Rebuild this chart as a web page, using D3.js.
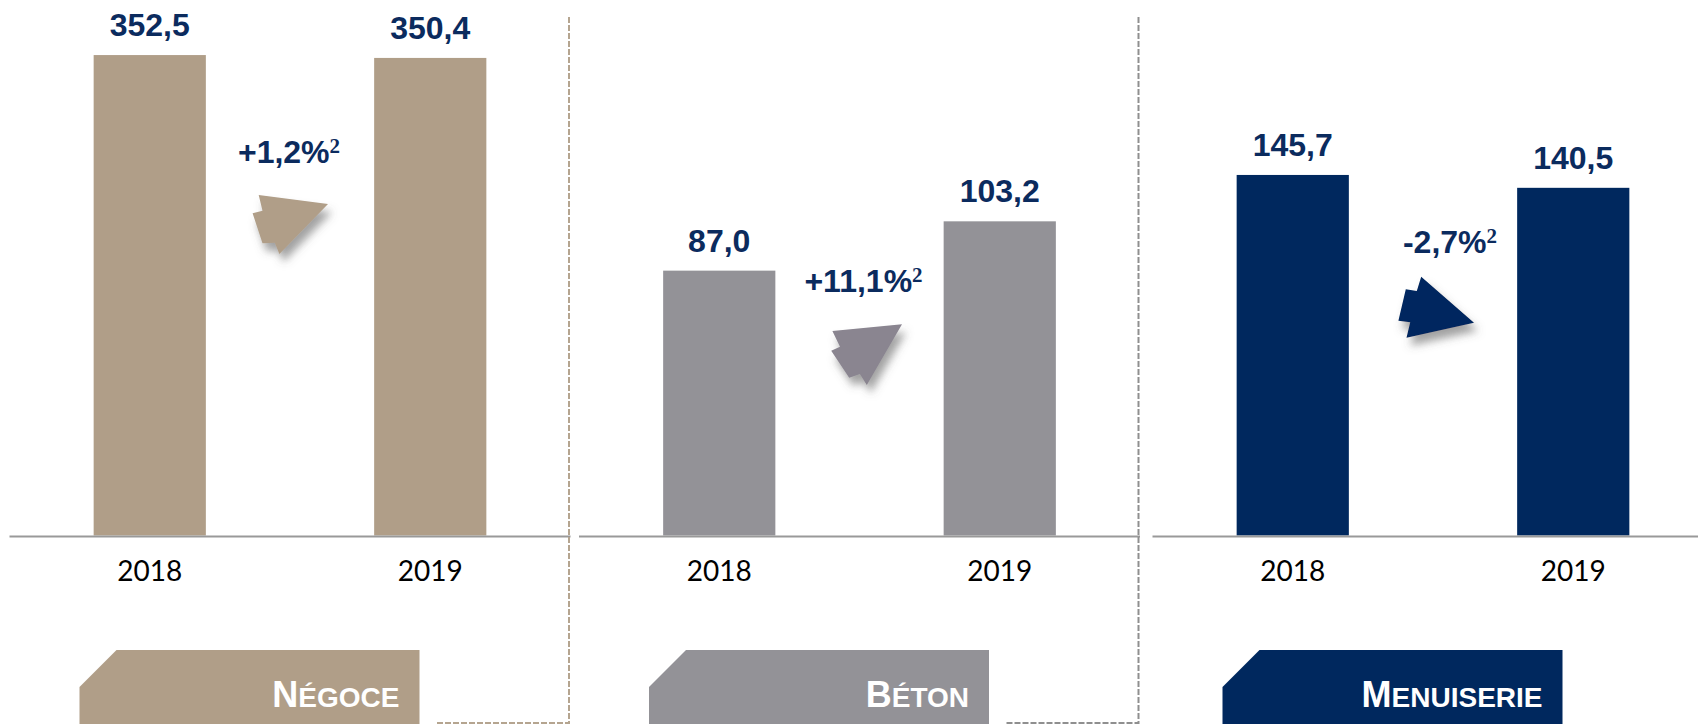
<!DOCTYPE html>
<html>
<head>
<meta charset="utf-8">
<script src="https://cdn.jsdelivr.net/npm/d3@7"></script>
<style>
  body { margin: 0; background: #fff; }
  svg { display: block; }
</style>
</head>
<body>
<div id="chart"></div>
<script>
// Data
const segments = ['Négoce', 'Béton', 'Menuiserie'];
const years = ['2018', '2019'];
const ca2018 = [352.5, 87.0, 145.7];
const ca2019 = [350.4, 103.2, 140.5];
const variations = ['+1,2%', '+11,1%', '-2,7%'];
// each panel has its own vertical scale
const yMax = [392.9, 175.9, 216.4];

// Styles / layout
const fills = ['#b09e88', '#939297', '#00285e'];
const arrowFills = ['#b09e88', '#8a8590', '#00285e'];
const dashColors = ['#b5a590', '#8f8f8f', null];
const navy = '#0b2b5e';

const W = 1698, H = 724, axisY = 535.5;
const panelX = [9.5, 579, 1152.5], panelW = 561;
const varBaseline = [162.7, 291.7, 253.3];
const varDx = [-1, 4, 17];
const arrowPos = [[0, 225], [6, 355], [3, 307]];
// arrow outlines, relative to their centre
const arrowShapes = [
  [[-31.3,-30],[38,-21],[-10.6,29],[-15.2,17.7],[-27.5,18.3],[-37.4,-11.7],[-27.5,-14.3]],
  [[-33.1,-24],[36.5,-30.7],[1.3,30],[-5.6,19],[-16.3,22.7],[-34.3,-4.3],[-25.5,-8.3]],
  [[-14.8,-30.3],[38,15.7],[-29.5,30.7],[-25.8,15.3],[-37.6,13.7],[-30.2,-17.7],[-19.2,-16]]
];

let fmt = v => d3.format('.1f')(v).replace('.', ',');

let svg = d3.select('#chart')
  .append('svg')
    .attr('width', W)
    .attr('height', H);

let defs = svg.append('defs');
defs.append('filter')
    .attr('id', 'shadow')
    .attr('x', '-50%').attr('y', '-50%')
    .attr('width', '200%').attr('height', '200%')
  .append('feDropShadow')
    .attr('dx', 4).attr('dy', 8)
    .attr('stdDeviation', 4)
    .attr('flood-color', '#555')
    .attr('flood-opacity', 0.55);

segments.forEach((seg, i) => {
  let g = svg.append('g').attr('id', 'panel-' + i);
  let vals = [ca2018[i], ca2019[i]];

  let x = d3.scaleBand()
    .domain(years)
    .range([panelX[i], panelX[i] + panelW])
    .paddingInner(0.6)
    .paddingOuter(0.3);

  let y = d3.scaleLinear()
    .domain([0, yMax[i]])
    .range([axisY, 0]);

  // bars
  g.selectAll('rect.bar')
    .data(vals)
    .enter()
    .append('rect')
      .attr('class', 'bar')
      .attr('x', (d, j) => x(years[j]))
      .attr('y', d => y(d))
      .attr('width', x.bandwidth())
      .attr('height', d => axisY - y(d))
      .attr('fill', fills[i]);

  // baseline
  g.append('line')
    .attr('x1', panelX[i]).attr('x2', Math.min(panelX[i] + panelW, W))
    .attr('y1', axisY + 1).attr('y2', axisY + 1)
    .attr('stroke', '#999')
    .attr('stroke-width', 2);

  // value labels
  g.selectAll('text.value')
    .data(vals)
    .enter()
    .append('text')
      .attr('class', 'value')
      .attr('x', (d, j) => x(years[j]) + x.bandwidth() / 2)
      .attr('y', d => y(d) - 19)
      .attr('text-anchor', 'middle')
      .style('font-family', '"Liberation Sans", Arial, sans-serif')
      .style('font-weight', 'bold')
      .style('font-size', '32px')
      .attr('fill', navy)
      .text(d => fmt(d));

  // year labels
  g.selectAll('text.year')
    .data(years)
    .enter()
    .append('text')
      .attr('class', 'year')
      .attr('x', d => x(d) + x.bandwidth() / 2)
      .attr('y', 581)
      .attr('text-anchor', 'middle')
      .style('font-family', 'Lato, "DejaVu Sans", sans-serif')
      .style('font-size', '28px')
      .attr('fill', '#000')
      .text(d => d);

  // variation label + arrow
  let gapX = (x(years[0]) + x.bandwidth() + x(years[1])) / 2;
  let vt = g.append('text')
    .attr('x', gapX + varDx[i])
    .attr('y', varBaseline[i])
    .attr('text-anchor', 'middle')
    .style('font-family', '"Liberation Sans", Arial, sans-serif')
    .style('font-weight', 'bold')
    .style('font-size', '32px')
    .attr('fill', navy);
  vt.append('tspan').text(variations[i]);
  vt.append('tspan')
    .attr('dy', -10)
    .style('font-family', '"Liberation Serif", serif')
    .style('font-size', '21px')
    .text('2');

  g.append('polygon')
    .attr('transform', `translate(${gapX + arrowPos[i][0]}, ${arrowPos[i][1]})`)
    .attr('points', arrowShapes[i].map(p => p.join(',')).join(' '))
    .attr('fill', arrowFills[i])
    .attr('filter', 'url(#shadow)');

  // segment tag at the bottom
  let bx = panelX[i] + 70, bw = 340, by = 650, c = 37;
  g.append('path')
    .attr('d', `M${bx + c},${by} H${bx + bw} V${H + 2} H${bx} V${by + c} Z`)
    .attr('fill', fills[i]);
  let tag = g.append('text')
    .attr('x', bx + bw - 20)
    .attr('y', 707)
    .attr('text-anchor', 'end')
    .style('font-family', '"Liberation Sans", Arial, sans-serif')
    .style('font-weight', 'bold')
    .attr('fill', '#fff');
  tag.append('tspan').style('font-size', '36px').text(seg[0].toUpperCase());
  tag.append('tspan').style('font-size', '28px').text(seg.slice(1).toUpperCase());

  // dashed separator
  if (dashColors[i]) {
    let sx = panelX[i] + panelW - 1.5;
    g.append('path')
      .attr('d', `M${sx},17 V723 H${bx + bw + 16}`)
      .attr('fill', 'none')
      .attr('stroke', dashColors[i])
      .attr('stroke-width', 2)
      .attr('stroke-dasharray', '6,2');
  }
});
</script>
</body>
</html>
